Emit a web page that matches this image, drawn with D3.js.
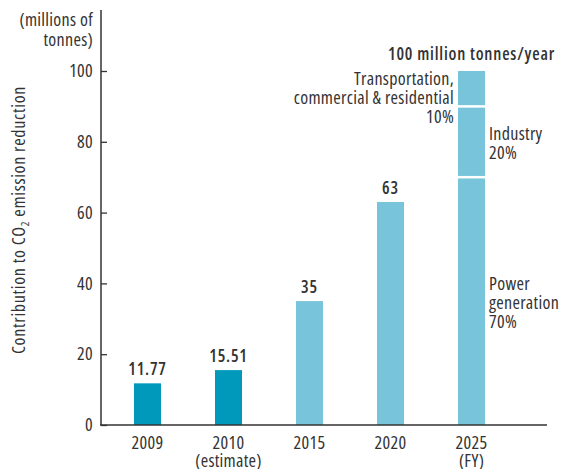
<!DOCTYPE html>
<html>
<head>
<meta charset="utf-8">
<script src="https://cdn.jsdelivr.net/npm/d3@7"></script>
<style>
  body { margin: 0; background: #fff; }
  text { font-family: "Open Sans", sans-serif; font-stretch: 75%; fill: #333; letter-spacing: 0.3px; }
</style>
</head>
<body>
<div id="chart"></div>
<script>
var years = ["2009", "2010", "2015", "2020", "2025"];
var yearNotes = ["", "(estimate)", "", "", "(FY)"];
var values = [11.77, 15.51, 35, 63, 100];
var valueLabels = ["11.77", "15.51", "35", "63", "100 million tonnes/year"];
var actual = [true, true, false, false, false];
var yTicks = [0, 20, 40, 60, 80, 100];

// breakdown of the 2025 target, bottom to top
var sectors = [["Power", "generation", "70%"], ["Industry", "20%"], ["Transportation,", "commercial & residential", "10%"]];
var shares = [70, 20, 10];

var width = 571, height = 469;
var fs = 18;

var svg = d3.select('#chart').append('svg')
  .attr('width', width)
  .attr('height', height);

var x = d3.scaleBand()
  .domain(years)
  .range([107, 512])
  .paddingInner(2 / 3)
  .paddingOuter(1 / 3);

var y = d3.scaleLinear()
  .domain([0, 100])
  .range([425, 71]);

// bars (2025 bar drawn as stacked pieces)
svg.selectAll('rect.bar')
  .data(values.slice(0, 4))
  .enter()
  .append('rect')
    .attr('class', 'bar')
    .attr('x', function(d, i) { return x(years[i]); })
    .attr('y', function(d) { return y(d); })
    .attr('width', x.bandwidth())
    .attr('height', function(d) { return y(0) - y(d); })
    .style('fill', function(d, i) { return actual[i] ? '#0099bc' : '#78c4da'; });

var cum = 0;
var stack = shares.map(function(s) { var o = {lo: cum, hi: cum + s}; cum += s; return o; });

svg.selectAll('rect.seg')
  .data(stack)
  .enter()
  .append('rect')
    .attr('class', 'seg')
    .attr('x', x('2025'))
    .attr('y', function(d) { return y(d.hi); })
    .attr('width', x.bandwidth())
    .attr('height', function(d) { return y(d.lo) - y(d.hi); })
    .style('fill', '#78c4da');

svg.selectAll('line.sep')
  .data(stack.slice(1))
  .enter()
  .append('line')
    .attr('class', 'sep')
    .attr('x1', x('2025'))
    .attr('x2', x('2025') + x.bandwidth())
    .attr('y1', function(d) { return y(d.lo); })
    .attr('y2', function(d) { return y(d.lo); })
    .style('stroke', '#fff')
    .style('stroke-width', 2.5);

// value labels
svg.selectAll('text.val')
  .data(values)
  .enter()
  .append('text')
    .attr('class', 'val')
    .attr('x', function(d, i) { return x(years[i]) + x.bandwidth() / 2; })
    .attr('y', function(d, i) { return y(d) - (i == 4 ? 11 : 8); })
    .attr('text-anchor', 'middle')
    .style('font-size', '17px')
    .style('font-weight', 600)
    .style('letter-spacing', '0.8px')
    .text(function(d, i) { return valueLabels[i]; });

// sector labels
var bx = x('2025'), bw = x.bandwidth();
function lines(parent, xx, yy, arr, anchor) {
  var t = parent.append('text').attr('y', yy).attr('text-anchor', anchor).style('font-size', fs + 'px');
  arr.forEach(function(s, i) { t.append('tspan').attr('x', xx).attr('dy', i ? 19 : 0).text(s); });
}
lines(svg, bx + bw + 4, 290, sectors[0], 'start');
lines(svg, bx + bw + 4, 140, sectors[1], 'start');
lines(svg, bx - 4, 85, sectors[2], 'end');

// y axis
var yAxis = d3.axisLeft(y)
  .tickValues(yTicks)
  .tickSize(-6)
  .tickPadding(8);

var gy = svg.append('g')
  .attr('transform', 'translate(101,0)')
  .call(yAxis);
gy.select('.domain').remove();
gy.selectAll('line').style('stroke', '#333').style('stroke-width', 1.3);
gy.selectAll('text').style('font-size', fs + 'px').style('fill', '#333');
gy.attr('font-family', null);

svg.append('line')
  .attr('x1', 101).attr('x2', 101)
  .attr('y1', 10).attr('y2', y(0))
  .style('stroke', '#333').style('stroke-width', 1.5);

// x axis
var xAxis = d3.axisBottom(x).tickSize(0).tickPadding(11);
var gx = svg.append('g')
  .attr('transform', 'translate(0,' + y(0) + ')')
  .call(xAxis);
gx.select('.domain').remove();
gx.attr('font-family', null);
gx.selectAll('text')
  .style('font-size', fs + 'px')
  .style('fill', '#333')
  .each(function(d, i) {
    if (yearNotes[i]) {
      d3.select(this).append('tspan').attr('x', 0).attr('dy', 18).text(yearNotes[i]);
    }
  });

svg.append('line')
  .attr('x1', 100).attr('x2', 547)
  .attr('y1', y(0)).attr('y2', y(0))
  .style('stroke', '#333').style('stroke-width', 1.5);

// unit label
var unit = svg.append('text').attr('text-anchor', 'end').style('font-size', fs + 'px');
unit.append('tspan').attr('x', 93).attr('y', 26).text('(millions of');
unit.append('tspan').attr('x', 93).attr('y', 46).text('tonnes)');

// y title
var yt = svg.append('text')
  .attr('transform', 'translate(25,220) rotate(-90)')
  .attr('text-anchor', 'middle')
  .style('font-size', fs + 'px')
  .style('letter-spacing', '0.7px');
yt.append('tspan').text('Contribution to CO');
yt.append('tspan').attr('dy', 4).style('font-size', '11px').text('2');
yt.append('tspan').attr('dy', -4).text(' emission reduction');
</script>
</body>
</html>
